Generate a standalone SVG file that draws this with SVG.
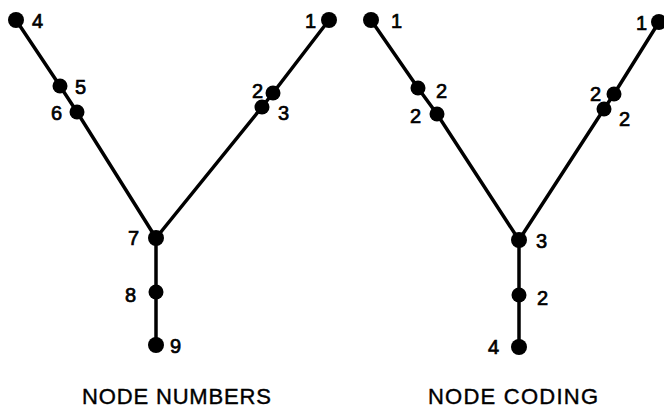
<svg xmlns="http://www.w3.org/2000/svg" width="664" height="412" viewBox="0 0 664 412">
<style>
.e{stroke:#000;stroke-width:3.5;fill:none;stroke-linecap:round}
.n{fill:#000}
.l{font-family:"Liberation Sans",Arial,sans-serif;font-size:20px;fill:#000;stroke:#000;stroke-width:0.7}
.t{font-family:"Liberation Sans",Arial,sans-serif;font-size:22px;fill:#000;stroke:#000;stroke-width:0.4}
</style>
<rect width="664" height="412" fill="#fff"/>
<g id="connectors">
<polyline class="e" points="16,20 60,86 77,112 156,238"/>
<polyline class="e" points="329,20 273,93 262,107 156,238"/>
<polyline class="e" points="156,238 156,292 156,345"/>
<polyline class="e" points="371,20 418,88 437,114 519,240"/>
<polyline class="e" points="659,22 614,94 604,109 519,240"/>
<polyline class="e" points="519,240 519,295 519,347"/>
</g>
<g id="L4"><circle class="n" cx="16" cy="20" r="8"/><text class="l" x="32" y="28">4</text></g>
<g id="L5"><circle class="n" cx="60" cy="86" r="7.5"/><text class="l" x="75" y="94">5</text></g>
<g id="L6"><circle class="n" cx="77" cy="112" r="7.5"/><text class="l" x="62" y="120" text-anchor="end">6</text></g>
<g id="L1"><circle class="n" cx="329" cy="20" r="8"/><text class="l" x="316" y="28" text-anchor="end">1</text></g>
<g id="L2"><circle class="n" cx="273" cy="93" r="7.5"/><text class="l" x="263" y="98" text-anchor="end">2</text></g>
<g id="L3"><circle class="n" cx="262" cy="107" r="7.5"/><text class="l" x="278" y="120">3</text></g>
<g id="L7"><circle class="n" cx="156" cy="238" r="8"/><text class="l" x="139" y="245" text-anchor="end">7</text></g>
<g id="L8"><circle class="n" cx="156" cy="292" r="7.5"/><text class="l" x="136" y="302" text-anchor="end">8</text></g>
<g id="L9"><circle class="n" cx="156" cy="345" r="8"/><text class="l" x="170" y="353">9</text></g>
<g id="R1a"><circle class="n" cx="371" cy="20" r="8"/><text class="l" x="391" y="28">1</text></g>
<g id="R2a"><circle class="n" cx="418" cy="88" r="7.5"/><text class="l" x="436" y="98">2</text></g>
<g id="R2b"><circle class="n" cx="437" cy="114" r="7.5"/><text class="l" x="421" y="123" text-anchor="end">2</text></g>
<g id="R1b"><circle class="n" cx="659" cy="22" r="8"/><text class="l" x="647" y="30" text-anchor="end">1</text></g>
<g id="R2c"><circle class="n" cx="614" cy="94" r="7.5"/><text class="l" x="601" y="101" text-anchor="end">2</text></g>
<g id="R2d"><circle class="n" cx="604" cy="109" r="7.5"/><text class="l" x="619" y="126">2</text></g>
<g id="R3"><circle class="n" cx="519" cy="240" r="8"/><text class="l" x="536" y="248">3</text></g>
<g id="R2e"><circle class="n" cx="519" cy="295" r="7.5"/><text class="l" x="537" y="305">2</text></g>
<g id="R4"><circle class="n" cx="519" cy="347" r="8"/><text class="l" x="499" y="354" text-anchor="end">4</text></g>
<text class="t" x="82" y="404" textLength="189" lengthAdjust="spacing">NODE NUMBERS</text>
<text class="t" x="428" y="404" textLength="170" lengthAdjust="spacing">NODE CODING</text>
</svg>
